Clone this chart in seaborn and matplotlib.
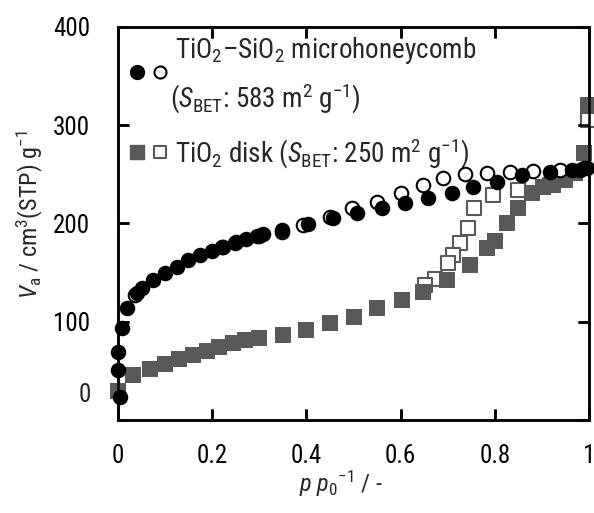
import matplotlib
matplotlib.use("Agg")
import matplotlib.pyplot as plt
from matplotlib import font_manager as fm
import seaborn as sns
import pandas as pd

# ---------------- data ----------------
# TiO2-SiO2 microhoneycomb, adsorption (filled circles)
mh_ads_x = [0.004, 0.0, 0.0, 0.008, 0.019, 0.040, 0.051, 0.074, 0.100, 0.125, 0.149,
            0.174, 0.199, 0.223, 0.248, 0.272, 0.295, 0.308, 0.348, 0.403, 0.456,
            0.507, 0.561, 0.609, 0.658, 0.709, 0.754, 0.805, 0.858, 0.917, 0.964,
            0.981, 0.996]
mh_ads_y = [23, 51, 69, 94, 114, 129, 134, 142, 150, 156, 163,
            168, 172, 176, 180, 184, 187, 189, 193, 199, 206,
            211, 216, 221, 226, 231, 237, 242, 249, 252, 254,
            254, 256]
# TiO2-SiO2 microhoneycomb, desorption (open circles)
mh_des_x = [0.990, 0.938, 0.881, 0.832, 0.783, 0.737, 0.690, 0.648, 0.600, 0.550,
            0.497, 0.450, 0.393, 0.348, 0.300, 0.250, 0.220, 0.036]
mh_des_y = [256, 254, 253, 252, 251, 250, 246, 239, 231, 222,
            216, 207, 198, 191, 187, 181, 176, 127]
# TiO2 disk, adsorption (filled squares)
dk_ads_x = [0.0, 0.032, 0.068, 0.100, 0.130, 0.160, 0.190, 0.215, 0.245, 0.270, 0.300,
            0.350, 0.400, 0.450, 0.500, 0.550, 0.603, 0.648, 0.698, 0.747, 0.783,
            0.800, 0.826, 0.849, 0.879, 0.902, 0.924, 0.945, 0.970, 0.990, 0.998]
dk_ads_y = [30, 46, 52, 57, 62, 66, 70, 74, 78, 81, 83,
            87, 92, 99, 105, 114, 122, 130, 143, 158, 175,
            182, 200, 216, 231, 237, 239, 244, 251, 272, 321]
# TiO2 disk, desorption (open squares)
dk_des_x = [0.998, 0.950, 0.917, 0.849, 0.796, 0.755, 0.743, 0.726, 0.711, 0.700,
            0.673, 0.652]
dk_des_y = [305, 244, 239, 234, 229, 216, 195, 180, 168, 160,
            144, 137]

xticks = [0, 0.2, 0.4, 0.6, 0.8, 1.0]
xtick_labels = ["0", "0.2", "0.4", "0.6", "0.8", "1"]
yticks = [0, 100, 200, 300, 400]
ytick_labels = ["0", "100", "200", "300", "400"]

legend_1a = r"TiO$_2$–SiO$_2$ microhoneycomb"
legend_1b = r"($\mathit{S}_\mathrm{BET}$: 583 m$^2$ g$^{-1}$)"
legend_2 = r"TiO$_2$ disk ($\mathit{S}_\mathrm{BET}$: 250 m$^2$ g$^{-1}$)"
xlabel = r"$\mathit{p}$ $\mathit{p}_\mathit{0}{}^{-1}$ / -"
ylabel = r"$\mathit{V}_\mathrm{a}$ / cm$^3$(STP) g$^{-1}$"

# ---------------- style ----------------
sns.set_style("ticks")
installed = {f.name for f in fm.fontManager.ttflist}
FONT = next((n for n in ["Liberation Sans Narrow", "Arial Narrow", "Roboto Condensed",
                         "Archivo Narrow", "Liberation Sans"] if n in installed), "DejaVu Sans")
TS, LS, AS = 18, 19.5, 17.5

plt.rcParams["font.family"] = [FONT, "DejaVu Sans"]
plt.rcParams["mathtext.fontset"] = "custom"
plt.rcParams["mathtext.rm"] = FONT
plt.rcParams["mathtext.it"] = FONT + ":italic"
plt.rcParams["mathtext.bf"] = FONT + ":bold"
plt.rcParams["mathtext.default"] = "regular"
plt.rcParams["axes.edgecolor"] = "black"
plt.rcParams["axes.linewidth"] = 1.8

GRAY = "#595959"

fig = plt.figure(figsize=(5.94, 5.13), dpi=100)
W, H = 594, 513
RECT = [118 / W, 93 / H, 471 / W, 393 / H]
ax = fig.add_axes(RECT)

mh_ads = pd.DataFrame({"x": mh_ads_x, "y": mh_ads_y})
mh_des = pd.DataFrame({"x": mh_des_x, "y": mh_des_y})
dk_ads = pd.DataFrame({"x": dk_ads_x, "y": dk_ads_y})
dk_des = pd.DataFrame({"x": dk_des_x, "y": dk_des_y})

sns.scatterplot(data=dk_des, x="x", y="y", ax=ax, marker="s", s=95, color="white",
                edgecolor=GRAY, linewidth=1.5, clip_on=False, zorder=3)
sns.scatterplot(data=dk_ads, x="x", y="y", ax=ax, marker="s", s=125, color=GRAY,
                edgecolor=GRAY, linewidth=0, clip_on=False, zorder=4)
sns.scatterplot(data=mh_des, x="x", y="y", ax=ax, marker="o", s=95, color="white",
                edgecolor="black", linewidth=1.5, clip_on=False, zorder=5)
sns.scatterplot(data=mh_ads, x="x", y="y", ax=ax, marker="o", s=125, color="black",
                edgecolor="black", linewidth=0, clip_on=False, zorder=6)

ax.set_xlim(0, 1)
ax.set_ylim(0, 400)
ax.set_xticks(xticks)
ax.set_xticklabels(xtick_labels)
ax.set_yticks(yticks)
ax.set_yticklabels([""] + ytick_labels[1:])
ax.tick_params(direction="in", length=8, width=1.8, top=True, right=True,
               labelsize=TS, colors="black")
ax.tick_params(axis="x", pad=17)
ax.tick_params(axis="y", pad=20)
for sp in ax.spines.values():
    sp.set_visible(True)
    sp.set_linewidth(1.8)
    sp.set_color("black")

# the "0" on the y axis sits a little above its tick in the reference
ax.annotate(ytick_labels[0], xy=(0, yticks[0]), xycoords=("axes fraction", "data"),
            xytext=(-27, 25), textcoords="offset pixels", ha="right", va="center",
            fontsize=TS)

ax.set_xlabel(xlabel, fontsize=AS)
ax.xaxis.set_label_coords((341 - 118) / 471, -0.125)
ax.set_ylabel(ylabel, fontsize=AS)
ax.yaxis.set_label_coords(-0.155, 0.522)

# legend (manual, as in the reference)
def fx(px):
    return (px - 118) / 471

def fy(py):
    return (420 - py) / 393

ax.scatter([fx(137)], [fy(72)], s=100, marker="o", color="black", transform=ax.transAxes,
           clip_on=False, zorder=7)
ax.scatter([fx(160)], [fy(72)], s=75, marker="o", facecolor="white", edgecolor="black",
           linewidth=1.5, transform=ax.transAxes, clip_on=False, zorder=7)
ax.scatter([fx(137)], [fy(152)], s=110, marker="s", color=GRAY, transform=ax.transAxes,
           clip_on=False, zorder=7)
ax.scatter([fx(160)], [fy(152)], s=80, marker="s", facecolor="white", edgecolor=GRAY,
           linewidth=1.5, transform=ax.transAxes, clip_on=False, zorder=7)
ax.text(fx(175), fy(58), legend_1a, transform=ax.transAxes, fontsize=LS, va="baseline", ha="left")
ax.text(fx(170), fy(108), legend_1b, transform=ax.transAxes, fontsize=LS, va="baseline", ha="left")
ax.text(fx(175), fy(163), legend_2, transform=ax.transAxes, fontsize=LS, va="baseline", ha="left")

# overlay axes that carries the frame and inward ticks on all four sides
frame = fig.add_axes(RECT, facecolor="none", zorder=20)
frame.set_xlim(0, 1)
frame.set_ylim(0, 400)
frame.set_xticks(xticks)
frame.set_yticks(yticks)
frame.tick_params(direction="in", length=8, width=1.8, top=True, right=True,
                  bottom=True, left=True, labelbottom=False, labelleft=False,
                  colors="black")
for sp in frame.spines.values():
    sp.set_visible(True)
    sp.set_linewidth(1.8)
    sp.set_color("black")

fig.savefig("out.png", dpi=100)
